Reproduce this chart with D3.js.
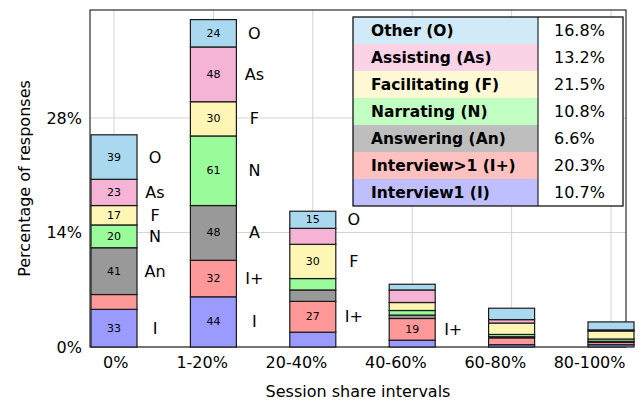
<!DOCTYPE html>
<html>
<head>
<meta charset="utf-8">
<script src="https://cdn.jsdelivr.net/npm/d3@7"></script>
<style>
  body { margin: 0; background: #fff; }
  svg { display: block; }
  text { font-family: "DejaVu Sans", sans-serif; fill: #000; }
</style>
</head>
<body>
<svg id="chart" width="638" height="402"></svg>
<script>
// ---------- data ----------
const categories = ["0%", "1-20%", "20-40%", "40-60%", "60-80%", "80-100%"];
const seriesKeys = ["I", "I+", "An", "N", "F", "As", "O"]; // bottom to top
const countsI     = [33, 44, 13,  6,  2, 2];
const countsIplus = [13, 32, 27, 19,  6, 2];
const countsAn    = [41, 48, 10,  3,  1, 1];
const countsN     = [20, 61, 10,  4,  2, 2];
const countsF     = [17, 30, 30,  7, 10, 7];
const countsAs    = [23, 48, 14, 11,  3, 1];
const countsO     = [39, 24, 15,  5, 10, 7];
const totalResponses = 717;
const sideI     = ["I",  "I",  "",   "",   "", ""];
const sideIplus = ["",   "I+", "I+", "I+", "", ""];
const sideAn    = ["An", "A",  "",   "",   "", ""];
const sideN     = ["N",  "N",  "",   "",   "", ""];
const sideF     = ["F",  "F",  "F",  "",   "", ""];
const sideAs    = ["As", "As", "",   "",   "", ""];
const sideO     = ["O",  "O",  "O",  "",   "", ""];
const yTickValues = [0, 14, 28];
const legendLabels = ["Other (O)", "Assisting (As)", "Facilitating (F)", "Narrating (N)",
                      "Answering (An)", "Interview>1 (I+)", "Interview1 (I)"];
const legendShares = ["16.8%", "13.2%", "21.5%", "10.8%", "6.6%", "20.3%", "10.7%"];
const legendKeys = ["O", "As", "F", "N", "An", "I+", "I"];

// ---------- styles ----------
const barColor = { "O": "#aad8ee", "As": "#f5b3d5", "F": "#fff5b5", "N": "#9afb9a",
                   "An": "#999999", "I+": "#ff9999", "I": "#9a9aff" };
const legendColor = { "O": "#d0eaf7", "As": "#fad3e7", "F": "#fff9d6", "N": "#c2ffc2",
                      "An": "#bebebe", "I+": "#ffc0c0", "I": "#bfbfff" };

const countsByKey = { "I": countsI, "I+": countsIplus, "An": countsAn, "N": countsN,
                      "F": countsF, "As": countsAs, "O": countsO };
const sideByKey = { "I": sideI, "I+": sideIplus, "An": sideAn, "N": sideN,
                    "F": sideF, "As": sideAs, "O": sideO };

const svg = d3.select("#chart");
const plot = { left: 90, right: 626, top: 10, bottom: 347 };
const barWidth = 46;

const x = d3.scalePoint().domain(categories)
  .range([plot.left + 24, plot.right - 15]);
const y = d3.scaleLinear().domain([0, 41.2]).range([plot.bottom, plot.top]);
const pct = c => c / totalResponses * 100;

// table for stacking
const table = categories.map((cat, i) => {
  const row = { cat };
  seriesKeys.forEach(k => row[k] = pct(countsByKey[k][i]));
  return row;
});
const stack = d3.stack().keys(seriesKeys)(table);

// ---------- grid ----------
const grid = svg.append("g").attr("stroke", "#c8c8c8").attr("stroke-width", 0.8);
grid.selectAll("line.h").data(yTickValues).join("line")
  .attr("x1", plot.left).attr("x2", plot.right)
  .attr("y1", d => y(d)).attr("y2", d => y(d));
grid.selectAll("line.v").data(categories).join("line")
  .attr("x1", d => x(d)).attr("x2", d => x(d))
  .attr("y1", plot.top).attr("y2", plot.bottom);

// ---------- frame ----------
svg.append("rect")
  .attr("x", plot.left).attr("y", plot.top)
  .attr("width", plot.right - plot.left).attr("height", plot.bottom - plot.top)
  .attr("fill", "none").attr("stroke", "#000").attr("stroke-width", 1);

// ---------- bars ----------
const layers = svg.append("g").selectAll("g").data(stack).join("g")
  .attr("fill", d => barColor[d.key]);
layers.selectAll("rect").data(d => d.map((s, i) => ({ s, i, key: d.key }))).join("rect")
  .attr("x", d => x(categories[d.i]) - barWidth / 2)
  .attr("width", barWidth)
  .attr("y", d => y(d.s[1]))
  .attr("height", d => y(d.s[0]) - y(d.s[1]))
  .attr("stroke", "#1a1a1a").attr("stroke-width", 1.2);

// numbers inside segments
const segs = [];
stack.forEach(layer => layer.forEach((s, i) => {
  segs.push({ key: layer.key, i, s, count: countsByKey[layer.key][i], side: sideByKey[layer.key][i] });
}));
svg.append("g").selectAll("text").data(segs.filter(d => d.count >= 15)).join("text")
  .attr("x", d => x(categories[d.i]))
  .attr("y", d => (y(d.s[0]) + y(d.s[1])) / 2)
  .attr("text-anchor", "middle").attr("dominant-baseline", "central")
  .attr("font-size", 11)
  .text(d => d.count);

// letter labels to the right of bars
svg.append("g").selectAll("text").data(segs.filter(d => d.side !== "")).join("text")
  .attr("x", d => x(categories[d.i]) + barWidth / 2 + 18)
  .attr("y", d => (y(d.s[0]) + y(d.s[1])) / 2)
  .attr("text-anchor", "middle").attr("dominant-baseline", "central")
  .attr("font-size", 16)
  .text(d => d.side);

// ---------- axes ----------
const yAxis = svg.append("g").attr("transform", `translate(${plot.left},0)`)
  .call(d3.axisLeft(y).tickValues(yTickValues).tickFormat(d => d + "%").tickSize(0).tickPadding(8));
yAxis.select(".domain").remove();
yAxis.selectAll("text").attr("font-size", 16).attr("font-family", "DejaVu Sans");

const xAxis = svg.append("g").attr("transform", `translate(0,${plot.bottom})`)
  .call(d3.axisBottom(x).tickSize(0).tickPadding(10));
xAxis.select(".domain").remove();
xAxis.selectAll("text").attr("font-size", 16).attr("font-family", "DejaVu Sans")
  .attr("text-anchor", "end").attr("dx", 14);

svg.append("text")
  .attr("x", (plot.left + plot.right) / 2).attr("y", 397)
  .attr("text-anchor", "middle").attr("font-size", 16)
  .text("Session share intervals");

svg.append("text")
  .attr("transform", `translate(30,${(plot.top + plot.bottom) / 2}) rotate(-90)`)
  .attr("text-anchor", "middle").attr("font-size", 16)
  .text("Percentage of responses");

// ---------- legend table ----------
const lg = { x: 353, y: 17, w1: 185, w2: 85, rowH: 27 };
const legend = svg.append("g");
legend.selectAll("rect.row").data(legendKeys).join("rect")
  .attr("x", lg.x).attr("y", (d, i) => lg.y + i * lg.rowH)
  .attr("width", lg.w1).attr("height", lg.rowH)
  .attr("fill", d => legendColor[d]);
legend.append("rect")
  .attr("x", lg.x + lg.w1).attr("y", lg.y)
  .attr("width", lg.w2).attr("height", lg.rowH * legendKeys.length)
  .attr("fill", "#fff");
legend.append("rect")
  .attr("x", lg.x).attr("y", lg.y)
  .attr("width", lg.w1 + lg.w2).attr("height", lg.rowH * legendKeys.length)
  .attr("fill", "none").attr("stroke", "#000").attr("stroke-width", 1.2);
legend.append("line")
  .attr("x1", lg.x + lg.w1).attr("x2", lg.x + lg.w1)
  .attr("y1", lg.y).attr("y2", lg.y + lg.rowH * legendKeys.length)
  .attr("stroke", "#000").attr("stroke-width", 1);
legend.selectAll("text.lab").data(legendLabels).join("text")
  .attr("x", lg.x + 18).attr("y", (d, i) => lg.y + i * lg.rowH + lg.rowH / 2)
  .attr("dominant-baseline", "central").attr("font-weight", "bold").attr("font-size", 15.5)
  .text(d => d);
legend.selectAll("text.val").data(legendShares).join("text")
  .attr("x", lg.x + lg.w1 + 16).attr("y", (d, i) => lg.y + i * lg.rowH + lg.rowH / 2)
  .attr("dominant-baseline", "central").attr("font-size", 16)
  .text(d => d);
</script>
</body>
</html>
